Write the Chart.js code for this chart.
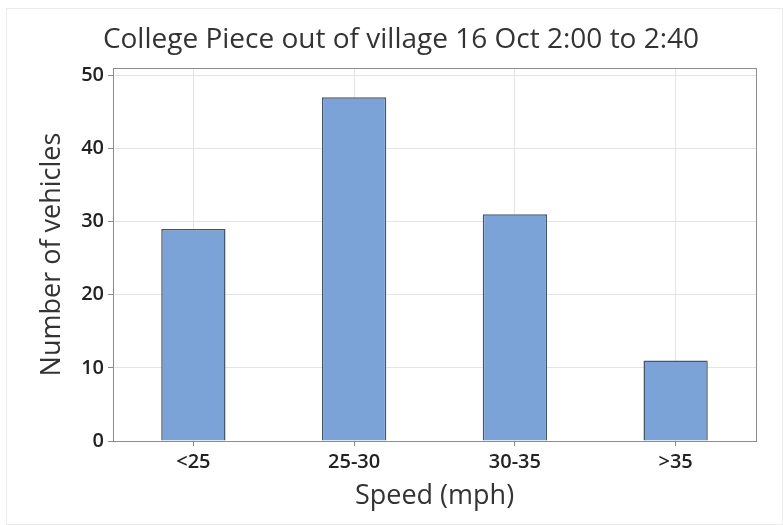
<!DOCTYPE html>
<html>
<head>
<meta charset="utf-8">
<script src="https://cdn.jsdelivr.net/npm/chart.js@4/dist/chart.umd.min.js"></script>
<style>
	body { margin: 0; background: #fff; }
	#wrap { position: relative; width: 783px; height: 525px; }
	#frame {
		position: absolute;
		left: 6px; top: 8px; width: 775px; height: 515px;
		border: 1px solid #ebebeb;
		pointer-events: none;
	}
</style>
</head>
<body>
<div id="wrap">
	<canvas id="chart" width="783" height="525"></canvas>
	<div id="frame"></div>
</div>
<script>
const titleText = "College Piece out of village 16 Oct 2:00 to 2:40";
const speedBands = ["<25", "25-30", "30-35", ">35"];
const vehicleCounts = [29, 47, 31, 11];
const yTicks = [0, 10, 20, 30, 40, 50];

const fontFamily = "'Open Sans', 'Noto Sans', sans-serif";

// box round the plot area, as in the original
const plotFrame = {
	id: "plotFrame",
	afterDraw(chart) {
		const area = chart.chartArea;
		const ctx = chart.ctx;
		ctx.save();
		ctx.strokeStyle = "#8c8c8c";
		ctx.lineWidth = 1;
		ctx.strokeRect(Math.round(area.left) + 0.5, Math.round(area.top) + 0.5,
			Math.round(area.right - area.left), Math.round(area.bottom - area.top));
		ctx.restore();
	}
};

const context = document.getElementById("chart").getContext("2d");
const chart = new Chart(context, {
	type: "bar",
	data: {
		labels: speedBands,
		datasets: [
			{
				label: "Vehicles",
				data: vehicleCounts,
				backgroundColor: "#7ba3d8",
				borderColor: "#46566a",
				borderWidth: 1.5,
				barPercentage: 0.4,
				categoryPercentage: 1
			}
		]
	},
	options: {
		responsive: false,
		animation: false,
		layout: {
			padding: { left: 46, right: 27, top: 0, bottom: 0 }
		},
		plugins: {
			legend: { display: false },
			tooltip: { enabled: false },
			title: {
				display: true,
				text: titleText,
				color: "#333",
				font: { family: fontFamily, size: 28, weight: "normal" },
				padding: { top: 23.6, bottom: 10.8 }
			}
		},
		scales: {
			x: {
				afterFit: scale => { scale.height = 84; },
				grid: {
					offset: false,
					color: "#e4e4e4",
					tickColor: "#8c8c8c",
					tickLength: 5
				},
				border: { color: "#8c8c8c" },
				ticks: {
					color: "#222",
					padding: 4,
					font: { family: fontFamily, size: 20, weight: 600 }
				},
				title: {
					display: true,
					text: "Speed (mph)",
					color: "#333",
					padding: { top: 0, bottom: 12 },
					font: { family: fontFamily, size: 27, weight: "normal" }
				}
			},
			y: {
				min: 0,
				max: 51,
				afterFit: scale => { scale.width = 67; },
				afterBuildTicks: scale => {
					scale.ticks = yTicks.map(v => ({ value: v }));
				},
				grid: {
					color: "#e4e4e4",
					tickColor: "#8c8c8c",
					tickLength: 5
				},
				border: { color: "#8c8c8c" },
				ticks: {
					color: "#222",
					padding: 4,
					font: { family: fontFamily, size: 20, weight: 600 }
				},
				title: {
					display: true,
					text: "Number of vehicles",
					color: "#333",
					padding: { top: -10, bottom: 0 },
					font: { family: fontFamily, size: 27, weight: "normal" }
				}
			}
		}
	},
	plugins: [plotFrame]
});
</script>
</body>
</html>
